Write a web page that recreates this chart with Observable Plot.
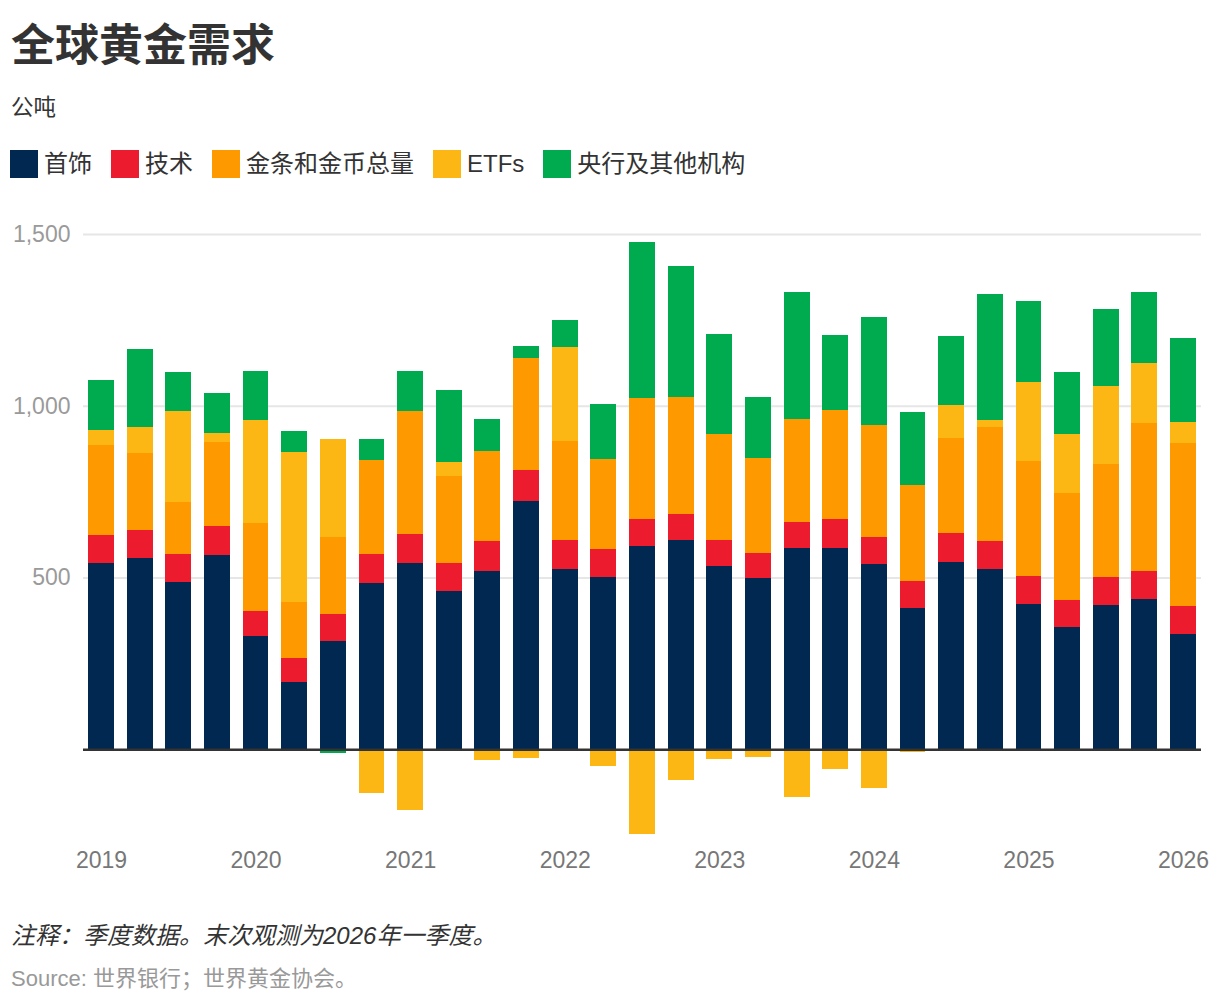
<!DOCTYPE html>
<html>
<head>
<meta charset="utf-8">
<script src="https://cdn.jsdelivr.net/npm/d3@7"></script>
<script src="https://cdn.jsdelivr.net/npm/@observablehq/plot@0.6"></script>
<style>
  html, body { margin: 0; padding: 0; background: #fff; }
  body { width: 1220px; height: 1002px; position: relative; overflow: hidden;
         font-family: "Liberation Sans", Arial, "Noto Sans CJK SC", sans-serif; }
  .abs { position: absolute; left: 11px; white-space: nowrap; }
  #title { top: 24px; font-size: 44px; line-height: 1; font-weight: bold; color: #333; }
  #subtitle { top: 96.5px; font-size: 22.5px; line-height: 1; color: #333; }
  #legend { position: absolute; top: 150px; left: 10px; display: flex; align-items: center; height: 28px; white-space: nowrap; }
  .item { display: flex; align-items: center; margin-right: 19px; }
  .sw { width: 28px; height: 28px; margin-right: 6px; }
  .lab { font-size: 24px; line-height: 26px; color: #333; }
  #chart { position: absolute; top: 190px; left: 0; }
  #note { top: 924px; font-size: 24px; line-height: 1; font-style: italic; color: #333; }
  #source { top: 968px; font-size: 22px; line-height: 1; color: #999; }
</style>
</head>
<body>
<div id="title" class="abs">全球黄金需求</div>
<div id="subtitle" class="abs">公吨</div>
<div id="legend"></div>
<div id="chart"></div>
<div id="note" class="abs">注释：季度数据。末次观测为2026年一季度。</div>
<div id="source" class="abs">Source: 世界银行；世界黄金协会。</div>
<script>
const quarters = [
  "2019Q1","2019Q2","2019Q3","2019Q4",
  "2020Q1","2020Q2","2020Q3","2020Q4",
  "2021Q1","2021Q2","2021Q3","2021Q4",
  "2022Q1","2022Q2","2022Q3","2022Q4",
  "2023Q1","2023Q2","2023Q3","2023Q4",
  "2024Q1","2024Q2","2024Q3","2024Q4",
  "2025Q1","2025Q2","2025Q3","2025Q4",
  "2026Q1"
];
const seriesNames = ["首饰", "技术", "金条和金币总量", "ETFs", "央行及其他机构"];
const seriesColors = ["#002850", "#ec1c2e", "#ff9900", "#fdb714", "#00aa4f"];

const jewellery    = [542,556,487,565, 330,196,315,484, 542,461,518,722, 524,501,592,608, 533,498,585,585, 539,411,545,525, 423,356,420,437, 336];
const technology   = [ 82, 82, 81, 85,  73, 70, 79, 84,  85, 81, 88, 91,  84, 81, 77, 76,  75, 72, 76, 84,  78, 79, 84, 80,  80, 79, 81, 82,  81];
const barCoin      = [261,224,151,243, 255,163,224,274, 357,253,262,325, 288,262,353,340, 309,277,299,318, 326,278,276,332, 335,310,328,430, 474];
const etfs         = [ 43, 75,265, 28, 299,435,284,-127, -177, 40,-31,-25, 274,-49,-246,-89, -28,-22,-139,-57, -113,-8, 96, 20, 230,172,227,174,  61];
const centralBanks = [146,227,113,115, 143, 61,-10, 60, 116,210, 92, 35,  81,160,456,382, 291,177,370,218, 314,213,201,367, 236,180,227,207, 244];

const yTicks = [500, 1000, 1500];

const seriesValues = [jewellery, technology, barCoin, etfs, centralBanks];
const data = [];
seriesNames.forEach((name, s) => {
  quarters.forEach((q, i) => data.push({quarter: q, series: name, value: seriesValues[s][i]}));
});

// legend
const legend = document.getElementById("legend");
seriesNames.forEach((name, i) => {
  const it = document.createElement("div");
  it.className = "item";
  const sw = document.createElement("div");
  sw.className = "sw";
  sw.style.background = seriesColors[i];
  const lab = document.createElement("div");
  lab.className = "lab";
  lab.textContent = name;
  it.appendChild(sw); it.appendChild(lab);
  legend.appendChild(it);
});

const chart = Plot.plot({
  width: 1220,
  height: 695,
  marginTop: 44,
  marginBottom: 50,
  marginLeft: 83,
  marginRight: 19,
  style: {fontFamily: '"Liberation Sans", Arial, sans-serif', background: "#fff"},
  x: {type: "band", domain: quarters, paddingInner: 0.33, paddingOuter: 0.13, align: 0.5, round: false},
  y: {domain: [-250, 1500], nice: false},
  color: {domain: seriesNames, range: seriesColors},
  marks: [
    Plot.gridY(yTicks, {stroke: "#e6e6e6", strokeOpacity: 1, strokeWidth: 2}),
    Plot.barY(data, {x: "quarter", y: "value", fill: "series", shapeRendering: "crispEdges"}),
    Plot.ruleY([0], {stroke: "#333", strokeWidth: 2.5}),
    Plot.axisY(yTicks, {tickSize: 0, tickPadding: 13, fontSize: 23, color: "#9a9a9a", tickFormat: d3.format(","), label: null}),
    Plot.axisX({tickSize: 0, tickPadding: 16, fontSize: 23, color: "#777",
      tickFormat: d => d.endsWith("Q1") ? d.slice(0, 4) : "", label: null})
  ]
});
document.getElementById("chart").appendChild(chart);
</script>
</body>
</html>
